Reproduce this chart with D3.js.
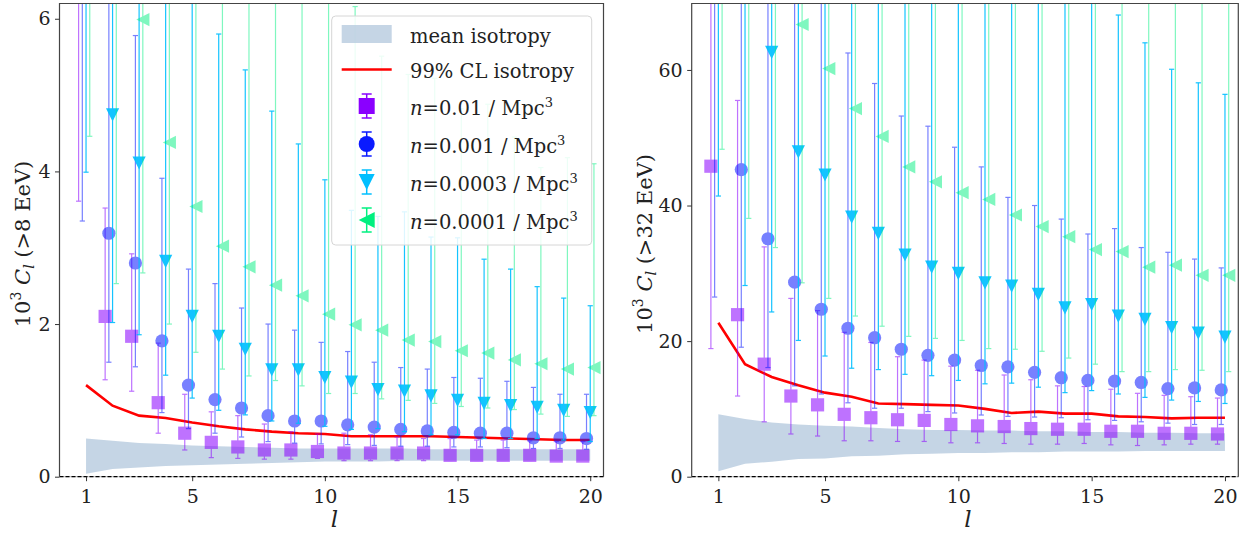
<!DOCTYPE html>
<html lang="en">
<head>
<meta charset="UTF-8">
<title>Angular power spectrum</title>
<script src="https://cdn.jsdelivr.net/npm/d3@7"></script>
<style>
  body { margin: 0; background: #fff; }
  svg text { font-family: "DejaVu Serif", serif; fill: #222; }
  .axis text { font-size: 19px; fill: #222; }
  .axis line { stroke: #333; stroke-width: 1; }
</style>
</head>
<body>
<svg width="1243" height="534"></svg>
<script>
// multipoles l = 1..20
var ells = d3.range(1, 21);
var xTicks = [1, 5, 10, 15, 20];
var yTicks8 = [0, 2, 4, 6];
var yTicks32 = [0, 20, 40, 60];

// ---- E > 8 EeV ----
var band8Lo = [0.04, 0.10, 0.12, 0.14, 0.15, 0.16, 0.17, 0.18, 0.19, 0.20, 0.20, 0.20, 0.21, 0.21, 0.21, 0.21, 0.21, 0.21, 0.21, 0.21];
var band8Hi = [0.50, 0.47, 0.44, 0.43, 0.41, 0.40, 0.39, 0.38, 0.37, 0.37, 0.37, 0.37, 0.37, 0.36, 0.36, 0.36, 0.36, 0.36, 0.36, 0.36];
var cl99_8 = [1.20, 0.93, 0.80, 0.77, 0.71, 0.66, 0.62, 0.59, 0.57, 0.56, 0.53, 0.53, 0.53, 0.53, 0.52, 0.51, 0.50, 0.49, 0.48, 0.48];

var n01_8 = [7.5, 2.10, 1.84, 0.97, 0.57, 0.45, 0.39, 0.35, 0.35, 0.33, 0.31, 0.31, 0.31, 0.31, 0.28, 0.28, 0.28, 0.28, 0.27, 0.27];
var n01_8lo = [3.61, 1.27, 1.12, 0.57, 0.35, 0.25, 0.24, 0.23, 0.23, 0.24, 0.21, 0.21, 0.21, 0.21, 0.21, 0.21, 0.21, 0.21, 0.21, 0.21];
var n01_8hi = [12, 3.52, 2.92, 1.75, 1.08, 0.85, 0.80, 0.69, 0.59, 0.56, 0.57, 0.55, 0.52, 0.50, 0.50, 0.48, 0.48, 0.47, 0.46, 0.46];

var n001_8 = [7.0, 3.19, 2.80, 1.78, 1.20, 1.01, 0.90, 0.80, 0.73, 0.73, 0.68, 0.65, 0.62, 0.60, 0.58, 0.57, 0.57, 0.51, 0.51, 0.50];
var n001_8lo = [3.35, 1.50, 1.44, 0.84, 0.63, 0.57, 0.52, 0.46, 0.44, 0.43, 0.42, 0.41, 0.40, 0.40, 0.39, 0.39, 0.38, 0.37, 0.37, 0.36];
var n001_8hi = [13, 8.0, 5.78, 3.91, 2.72, 2.53, 2.21, 2.00, 1.92, 1.76, 1.64, 1.50, 1.43, 1.41, 1.30, 1.29, 1.25, 1.17, 1.08, 1.08];

var n0003_8 = [8.0, 4.74, 4.11, 2.82, 2.10, 1.84, 1.67, 1.40, 1.40, 1.30, 1.24, 1.14, 1.12, 1.06, 1.00, 0.96, 0.93, 0.91, 0.87, 0.84];
var n0003_8lo = [3.99, 2.02, 1.86, 1.33, 1.03, 0.87, 0.81, 0.73, 0.70, 0.66, 0.62, 0.63, 0.59, 0.55, 0.55, 0.50, 0.50, 0.50, 0.48, 0.46];
var n0003_8hi = [15, 10, 9, 7.5, 6.5, 5.80, 5.33, 4.79, 4.36, 3.89, 3.49, 3.41, 3.47, 3.14, 3.13, 2.85, 2.72, 2.49, 2.34, 2.24];

var n0001_8 = [9.5, 7.0, 5.99, 4.38, 3.54, 3.02, 2.75, 2.51, 2.37, 2.13, 1.99, 1.92, 1.79, 1.77, 1.65, 1.62, 1.53, 1.48, 1.41, 1.43];
var n0001_8lo = [4.46, 2.53, 2.67, 2.00, 1.63, 1.41, 1.32, 1.26, 1.19, 1.09, 1.09, 1.02, 1.00, 0.96, 0.92, 0.90, 0.88, 0.82, 0.79, 0.80];
var n0001_8hi = [20, 15, 12, 10, 9, 8, 7.5, 7, 6.6, 6.4, 6.16, 5.51, 5.27, 5.22, 4.82, 4.88, 4.45, 4.05, 4.18, 4.10];

// ---- E > 32 EeV ----
var band32Lo = [0.8, 1.9, 2.2, 2.6, 2.7, 3.0, 3.1, 3.3, 3.4, 3.5, 3.5, 3.6, 3.6, 3.7, 3.7, 3.7, 3.8, 3.8, 3.8, 3.8];
var band32Hi = [9.2, 8.5, 8.0, 7.7, 7.5, 7.4, 7.2, 7.0, 6.9, 6.9, 6.8, 6.8, 6.7, 6.7, 6.6, 6.6, 6.5, 6.5, 6.4, 6.4];
var cl99_32 = [22.7, 16.6, 14.7, 13.5, 12.4, 11.8, 10.8, 10.7, 10.6, 10.5, 10.0, 9.4, 9.6, 9.3, 9.3, 8.9, 8.8, 8.6, 8.7, 8.7];

var n01_32 = [45.8, 23.9, 16.6, 11.9, 10.6, 9.2, 8.7, 8.4, 8.3, 7.7, 7.5, 7.4, 7.1, 7.0, 7.0, 6.7, 6.7, 6.4, 6.4, 6.3];
var n01_32lo = [18.9, 11.9, 8.1, 6.3, 6.0, 5.3, 5.3, 5.2, 5.2, 5.0, 5.0, 4.9, 4.8, 4.8, 4.9, 4.7, 4.6, 4.7, 4.8, 4.8];
var n01_32hi = [95, 55.5, 33.9, 26.3, 24.5, 21.3, 19.8, 17.7, 17.2, 16.3, 15.7, 15.0, 14.3, 13.4, 13.3, 12.9, 12.3, 12.0, 11.8, 11.6];

var n001_32 = [80, 45.3, 35.1, 28.7, 24.7, 21.9, 20.5, 18.8, 17.9, 17.2, 16.4, 16.2, 15.4, 14.6, 14.2, 14.1, 13.9, 13.0, 13.1, 12.8];
var n001_32lo = [26.5, 19.1, 16.1, 13.4, 12.2, 10.9, 10.1, 10.1, 9.6, 9.4, 9.1, 8.9, 8.8, 8.7, 8.4, 8.3, 8.1, 7.9, 7.7, 7.7];
var n001_32hi = [150, 110, 90, 78, 72, 62.5, 58.0, 53.2, 51.7, 48.6, 45.7, 41.2, 40.0, 38.0, 35.8, 36.6, 33.8, 33.1, 32.1, 30.8];

var n0003_32 = [110, 85, 62.6, 47.9, 44.5, 38.3, 35.9, 32.7, 30.9, 30.0, 28.6, 28.1, 26.9, 24.9, 25.4, 23.7, 23.2, 22.0, 21.2, 20.6];
var n0003_32lo = [41.4, 28.2, 24.3, 20.1, 17.8, 16.0, 15.8, 15.1, 14.9, 14.2, 13.7, 13.8, 13.2, 12.4, 12.7, 12.2, 11.7, 11.3, 11.1, 10.8];
var n0003_32hi = [250, 200, 160, 130, 115, 100, 92, 86, 82, 78, 76, 74, 72, 71, 70.5, 68.1, 64.0, 60.1, 58.1, 56.4];

var n0001_32 = [130, 100, 80, 66.7, 60.2, 54.3, 50.2, 45.7, 43.5, 41.9, 40.9, 38.6, 36.9, 35.4, 33.5, 33.2, 30.9, 31.2, 29.7, 29.7];
var n0001_32lo = [48.3, 38.1, 33.8, 28.6, 26.3, 23.7, 22.2, 20.7, 20.4, 20.1, 18.9, 18.8, 18.5, 17.5, 16.6, 15.5, 15.5, 15.8, 15.7, 15.5];
var n0001_32hi = [300, 250, 200, 180, 160, 140, 130, 120, 110, 105, 100, 95, 92, 90, 88, 85, 82, 80, 78, 76];

var seriesNames = ["=0.01 / Mpc", "=0.001 / Mpc", "=0.0003 / Mpc", "=0.0001 / Mpc"];
var seriesColors = ["#8a00ff", "#0a1aff", "#00bfff", "#00f080"];
var seriesAlpha = [0.55, 0.55, 0.92, 0.5];
var seriesShift = [-0.28, -0.14, 0, 0.14];
var seriesShape = ["square", "circle", "down", "left"];

var svg = d3.select("svg");
var plotTop = 3.5, plotBottom = 476.7;

function markerPath(shape, s) {
    if (shape == "square") return "M" + (-s) + "," + (-s) + "H" + s + "V" + s + "H" + (-s) + "Z";
    if (shape == "circle") return d3.symbol(d3.symbolCircle, Math.PI * s * s)();
    if (shape == "down") return "M" + (-s) + "," + (-s) + "L" + s + "," + (-s) + "L0," + s + "Z";
    return "M" + (-s) + ",0L" + s + "," + (-s) + "L" + s + "," + s + "Z";
}

function drawPanel(p) {
    var x = d3.scaleLinear().domain([0, 20.5]).range([p.left, p.right]);
    var y = d3.scaleLinear().domain([0, p.ymax]).range([plotBottom, plotTop]);
    var g = svg.append("g");

    g.append("defs").append("clipPath")
        .attr("id", p.id)
        .append("rect")
        .attr("x", p.left).attr("y", plotTop)
        .attr("width", p.right - p.left).attr("height", plotBottom - plotTop);

    var plot = g.append("g").attr("clip-path", "url(#" + p.id + ")");

    // isotropy band
    plot.append("path")
        .datum(ells)
        .attr("fill", "#b7cadf")
        .attr("fill-opacity", 0.8)
        .attr("d", d3.area()
            .x(function (d) { return x(d); })
            .y0(function (d, i) { return y(p.bandLo[i]); })
            .y1(function (d, i) { return y(p.bandHi[i]); }));

    // 99% CL
    plot.append("path")
        .datum(ells)
        .attr("fill", "none")
        .attr("stroke", "#ff0000")
        .attr("stroke-width", 2.6)
        .attr("d", d3.line()
            .x(function (d) { return x(d); })
            .y(function (d, i) { return y(p.cl99[i]); }));

    p.series.forEach(function (s, k) {
        var sg = plot.append("g")
            .attr("opacity", seriesAlpha[k]);
        var pts = ells.map(function (l, i) {
            return { x: x(l + seriesShift[k]), v: y(s.v[i]), lo: y(s.lo[i]), hi: y(s.hi[i]) };
        });
        sg.selectAll("line.bar").data(pts).enter().append("line")
            .attr("x1", function (d) { return d.x; }).attr("x2", function (d) { return d.x; })
            .attr("y1", function (d) { return d.lo; }).attr("y2", function (d) { return d.hi; })
            .attr("stroke", seriesColors[k]).attr("stroke-width", 1.2);
        ["lo", "hi"].forEach(function (e) {
            sg.selectAll("line.cap" + e).data(pts).enter().append("line")
                .attr("x1", function (d) { return d.x - 2.6; }).attr("x2", function (d) { return d.x + 2.6; })
                .attr("y1", function (d) { return d[e]; }).attr("y2", function (d) { return d[e]; })
                .attr("stroke", seriesColors[k]).attr("stroke-width", 1.2);
        });
        sg.selectAll("path.mk").data(pts).enter().append("path")
            .attr("transform", function (d) { return "translate(" + d.x + "," + d.v + ")"; })
            .attr("d", markerPath(seriesShape[k], 6.6))
            .attr("fill", seriesColors[k]);
    });

    // frame
    g.append("line").attr("x1", p.left).attr("x2", p.right).attr("y1", plotBottom).attr("y2", plotBottom)
        .attr("stroke", "#bbb").attr("stroke-width", 1);
    g.append("line").attr("x1", p.left).attr("x2", p.right).attr("y1", y(0)).attr("y2", y(0))
        .attr("stroke", "#000").attr("stroke-width", 1.3).attr("stroke-dasharray", "4,2");
    g.append("path")
        .attr("d", "M" + p.left + "," + plotBottom + "V" + plotTop + "H" + p.right + "V" + plotBottom)
        .attr("fill", "none").attr("stroke", "#444").attr("stroke-width", 1.2);

    var gx = g.append("g").attr("class", "axis")
        .attr("transform", "translate(0," + plotBottom + ")")
        .call(d3.axisBottom(x).tickValues(xTicks).tickSize(4.5).tickPadding(8.5).tickFormat(d3.format("d")));
    gx.select(".domain").remove();
    var gy = g.append("g").attr("class", "axis")
        .attr("transform", "translate(" + p.left + ",0)")
        .call(d3.axisLeft(y).tickValues(p.yTicks).tickSize(4.5).tickPadding(4.5).tickFormat(d3.format("d")));
    gy.select(".domain").remove();
    g.selectAll(".axis text").attr("font-family", "DejaVu Serif, serif");

    g.append("text")
        .attr("x", (p.left + p.right) / 2 + 3).attr("y", 527)
        .attr("text-anchor", "middle")
        .attr("font-size", 23).attr("font-style", "italic")
        .text("l");

    var yl = g.append("text")
        .attr("transform", "translate(" + p.ylabX + ",244) rotate(-90)")
        .attr("text-anchor", "middle")
        .attr("font-size", 21);
    yl.append("tspan").text("10");
    yl.append("tspan").attr("dy", -9).attr("font-size", 14).text("3");
    yl.append("tspan").attr("dy", 9).text(" ");
    yl.append("tspan").attr("font-style", "italic").text("C");
    yl.append("tspan").attr("dy", 4).attr("font-size", 14).attr("font-style", "italic").text("l");
    yl.append("tspan").attr("dy", -4).text(" (>" + p.energy + " EeV)");
}

drawPanel({
    id: "clip8", left: 59.5, right: 603.5, ymax: 6.2, yTicks: yTicks8, ylabX: 30, energy: 8,
    bandLo: band8Lo, bandHi: band8Hi, cl99: cl99_8,
    series: [
        { v: n01_8, lo: n01_8lo, hi: n01_8hi },
        { v: n001_8, lo: n001_8lo, hi: n001_8hi },
        { v: n0003_8, lo: n0003_8lo, hi: n0003_8hi },
        { v: n0001_8, lo: n0001_8lo, hi: n0001_8hi }
    ]
});
drawPanel({
    id: "clip32", left: 691.7, right: 1238.3, ymax: 69.8, yTicks: yTicks32, ylabX: 652, energy: 32,
    bandLo: band32Lo, bandHi: band32Hi, cl99: cl99_32,
    series: [
        { v: n01_32, lo: n01_32lo, hi: n01_32hi },
        { v: n001_32, lo: n001_32lo, hi: n001_32hi },
        { v: n0003_32, lo: n0003_32lo, hi: n0003_32hi },
        { v: n0001_32, lo: n0001_32lo, hi: n0001_32hi }
    ]
});

// legend (left panel)
var lg = svg.append("g");
lg.append("rect")
    .attr("x", 331.7).attr("y", 16).attr("width", 260).attr("height", 229).attr("rx", 4)
    .attr("fill", "#fff").attr("fill-opacity", 0.85)
    .attr("stroke", "#d6d6d6").attr("stroke-width", 1);
var rowY = [34, 69.5, 106, 144, 182, 220];
lg.append("rect").attr("x", 341.7).attr("y", 25).attr("width", 50).attr("height", 18)
    .attr("fill", "#b7cadf").attr("fill-opacity", 0.8);
lg.append("line").attr("x1", 341.7).attr("x2", 391.7).attr("y1", rowY[1]).attr("y2", rowY[1])
    .attr("stroke", "#ff0000").attr("stroke-width", 2.6);
lg.append("text").attr("x", 410).attr("y", rowY[0] + 8.5).attr("font-size", 19.5).text("mean isotropy");
lg.append("text").attr("x", 410).attr("y", rowY[1] + 8.5).attr("font-size", 19.5).text("99% CL isotropy");
seriesNames.forEach(function (name, k) {
    var cy = rowY[k + 2];
    var c = seriesColors[k];
    lg.append("line").attr("x1", 366.7).attr("x2", 366.7).attr("y1", cy - 12).attr("y2", cy + 12)
        .attr("stroke", c).attr("stroke-width", 1.5);
    [-12, 12].forEach(function (dy) {
        lg.append("line").attr("x1", 361.7).attr("x2", 371.7).attr("y1", cy + dy).attr("y2", cy + dy)
            .attr("stroke", c).attr("stroke-width", 1.5);
    });
    lg.append("path").attr("transform", "translate(366.7," + cy + ")")
        .attr("d", markerPath(seriesShape[k], 8)).attr("fill", c);
    var t = lg.append("text").attr("x", 410).attr("y", cy + 8.5).attr("font-size", 19.5);
    t.append("tspan").attr("font-style", "italic").text("n");
    t.append("tspan").text(name);
    t.append("tspan").attr("dy", -8).attr("font-size", 13).text("3");
});
</script>
</body>
</html>
